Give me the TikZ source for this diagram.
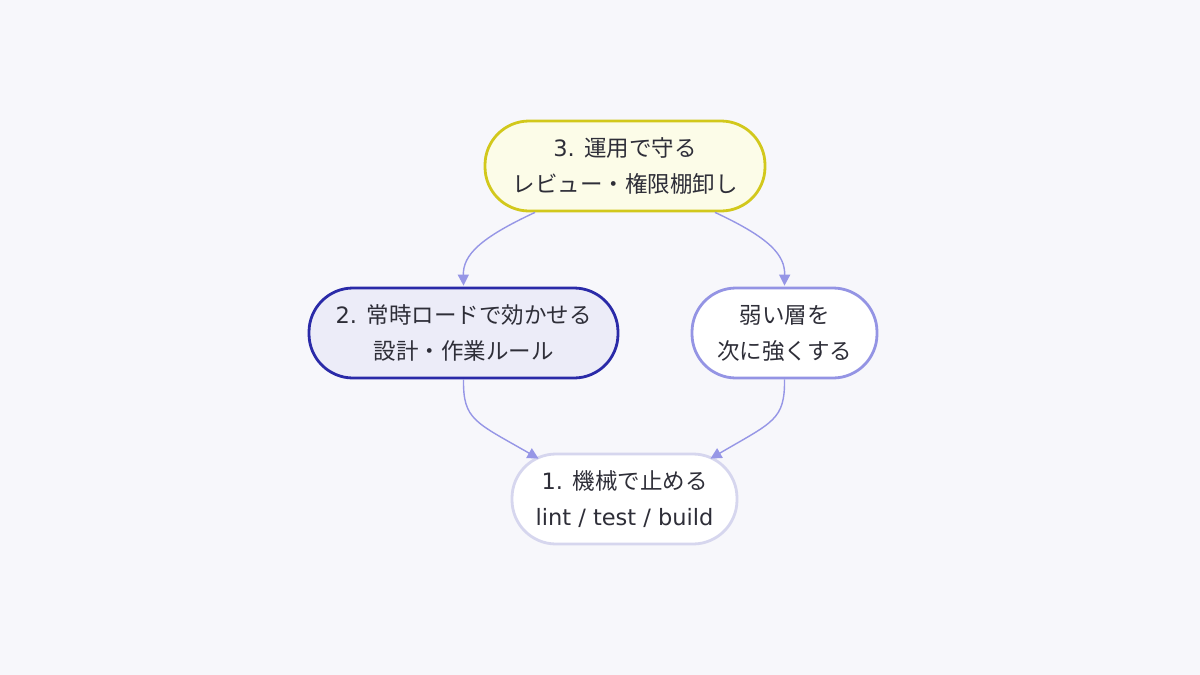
\documentclass[tikz,border=0pt]{standalone}
\usepackage{fontspec}
\setmainfont{DejaVu Sans}
\newfontfamily\cjk{Noto Sans CJK JP}
\usetikzlibrary{arrows.meta,calc}
\definecolor{bg}{HTML}{F7F7FB}
\definecolor{txt}{HTML}{2E2E38}
\definecolor{edgec}{HTML}{9696E6}
\definecolor{yfill}{HTML}{FCFCE8}
\definecolor{ydraw}{HTML}{D2C81C}
\definecolor{bfill}{HTML}{ECECF8}
\definecolor{bdraw}{HTML}{2A2AA8}
\definecolor{pdraw}{HTML}{9494E4}
\definecolor{ldraw}{HTML}{D6D6EE}
\tikzset{
  stadium/.style={draw, line width=2.8pt, rounded corners=44pt, minimum height=90pt,
    align=center, text=txt, font=\fontsize{22.5pt}{36pt}\selectfont, inner sep=0pt},
  link/.style={draw=edgec, line width=1.4pt, -{Triangle[length=11pt,width=11pt]}}
}
\begin{document}
\begin{tikzpicture}[x=1pt,y=-1pt]
\fill[bg] (0,0) rectangle (1200,675);
\useasboundingbox (0,0) rectangle (1200,675);
\node[stadium, fill=yfill, draw=ydraw, minimum width=280pt] (n3) at (625,166) {3. {\cjk 運用で守る}\\{\cjk レビュー・権限棚卸し}};
\node[stadium, fill=bfill, draw=bdraw, minimum width=309pt] (n2) at (463.5,333) {2. {\cjk 常時ロードで効かせる}\\{\cjk 設計・作業ルール}};
\node[stadium, fill=white, draw=pdraw, minimum width=185pt] (n4) at (784.5,333) {{\cjk 弱い層を}\\{\cjk 次に強くする}};
\node[stadium, fill=white, draw=ldraw, minimum width=225pt] (n1) at (624.5,499) {1. {\cjk 機械で止める}\\lint / test / build};
\coordinate (a1) at ($(n3.south)+(-90,0)$);
\coordinate (a2) at ($(n3.south)+(90,0)$);
\coordinate (b1) at (n2.north);
\coordinate (b2) at (n4.north);
\draw[link] (a1) .. controls (480,238) and (463,255) .. ($(b1)+(0,-1)$);
\draw[link] (a2) .. controls (770,238) and (785,255) .. ($(b2)+(0,-1)$);
\coordinate (c1) at ($(n1.north)+(-86,6)$);
\coordinate (c2) at ($(n1.north)+(86,6)$);
\draw[link] (n2.south) .. controls (463,420) and (475,422) .. (c1);
\draw[link] (n4.south) .. controls (785,420) and (773,422) .. (c2);
\end{tikzpicture}
\end{document}
